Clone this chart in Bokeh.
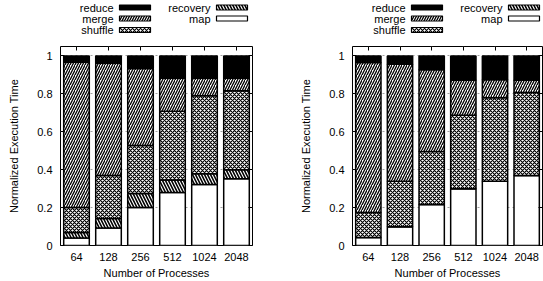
from bokeh.plotting import figure
from bokeh.layouts import row, column
from bokeh.models import (ColumnDataSource, FactorRange, Range1d, FixedTicker,
                          LinearAxis, CategoricalAxis)
from bokeh.transform import stack
from bokeh.core.properties import value
from bokeh.embed import file_html
from bokeh.resources import INLINE

# ---------------- data ----------------
categories = ["64", "128", "256", "512", "1024", "2048"]
phases = ["map", "recovery", "shuffle", "merge", "reduce"]  # bottom -> top

left_map = [0.040, 0.092, 0.200, 0.279, 0.322, 0.352]
left_recovery = [0.028, 0.051, 0.075, 0.067, 0.056, 0.048]
left_shuffle = [0.132, 0.227, 0.252, 0.362, 0.412, 0.417]
left_merge = [0.767, 0.592, 0.407, 0.174, 0.092, 0.065]
left_reduce = [0.033, 0.038, 0.066, 0.118, 0.118, 0.118]

right_map = [0.042, 0.099, 0.216, 0.300, 0.339, 0.369]
right_recovery = [0.0, 0.0, 0.0, 0.0, 0.0, 0.0]
right_shuffle = [0.132, 0.240, 0.280, 0.387, 0.440, 0.438]
right_merge = [0.791, 0.617, 0.431, 0.185, 0.096, 0.065]
right_reduce = [0.035, 0.044, 0.073, 0.128, 0.125, 0.128]

y_ticks = [0, 0.2, 0.4, 0.6, 0.8, 1]
y_tick_labels = ["0", "0.2", "0.4", "0.6", "0.8", "1"]
legend_col1 = ["reduce", "merge", "shuffle"]
legend_col2 = ["recovery", "map"]
x_title = "Number of Processes"
y_title = "Normalized Execution Time"

# ---------------- style ----------------
FONT = "Liberation Sans"
FS = "11px"
styles = {
    "map": dict(fill_color="white"),
    "recovery": dict(fill_color="white", hatch_pattern="\\", hatch_scale=6,
                     hatch_weight=1.6, hatch_color="black"),
    "shuffle": dict(fill_color="white", hatch_pattern="x", hatch_scale=4,
                    hatch_weight=1.2, hatch_color="black"),
    "merge": dict(fill_color="white", hatch_pattern="/", hatch_scale=5,
                  hatch_weight=1.3, hatch_color="black"),
    "reduce": dict(fill_color="black"),
}

LEG_H = 40
PLOT_H = 241
FRAME_LEFT = 60


def make_legend(width, right_border):
    # frame of this figure lines up with the plot frame below it
    lf = figure(width=width, height=LEG_H,
                x_range=Range1d(FRAME_LEFT, width - right_border),
                y_range=Range1d(0, LEG_H), toolbar_location=None,
                output_backend="svg", x_axis_type=None, y_axis_type=None,
                min_border_left=FRAME_LEFT, min_border_right=right_border,
                min_border_top=0, min_border_bottom=0)
    lf.outline_line_color = None
    rows_y = [LEG_H - 7, LEG_H - 18, LEG_H - 29.5]
    for names, label_end in [(legend_col1, 53), (legend_col2, 150)]:
        for i, name in enumerate(names):
            xl = FRAME_LEFT + label_end
            lf.text(x=[xl], y=[rows_y[i]], text=[name], text_align="right",
                    text_baseline="middle", text_font=value(FONT),
                    text_font_size=FS, text_color="black")
            lf.rect(x=[xl + 6 + 15.5], y=[rows_y[i]], width=31, height=5,
                    line_color="black", line_width=1.2, **styles[name])
    return lf


def make_panel(width, vals, right_border):
    data = dict(cat=categories)
    data.update(vals)
    src = ColumnDataSource(data)
    p = figure(width=width, height=PLOT_H, x_range=FactorRange(*categories),
               y_range=Range1d(0, 1.05), toolbar_location=None,
               output_backend="svg", min_border_left=FRAME_LEFT,
               min_border_right=right_border, min_border_top=6,
               min_border_bottom=34)
    for i, ph in enumerate(phases):
        bottom = stack(*phases[:i]) if i > 0 else 0
        p.vbar(x="cat", width=0.8, bottom=bottom, top=stack(*phases[:i + 1]),
               source=src, line_color="black", line_width=1.5, **styles[ph])

    p.outline_line_color = "black"
    p.outline_line_width = 1
    p.xgrid.visible = False
    p.ygrid.ticker = FixedTicker(ticks=y_ticks)
    p.ygrid.grid_line_color = "#a0a0a0"
    p.ygrid.grid_line_dash = "2 3"
    p.ygrid.grid_line_width = 1

    overrides = {t: l for t, l in zip(y_ticks, y_tick_labels)}
    ya = p.yaxis[0]
    ya.ticker = FixedTicker(ticks=y_ticks)
    ya.major_label_overrides = overrides
    ya.axis_line_color = None
    ya.major_tick_in = 4
    ya.major_tick_out = 0
    ya.minor_tick_line_color = None
    ya.major_label_standoff = 8
    ya.axis_label = y_title
    ya.axis_label_standoff = 14
    xa = p.xaxis[0]
    xa.axis_line_color = None
    xa.major_tick_in = 0
    xa.major_tick_out = 0
    xa.major_label_standoff = 7
    xa.axis_label = x_title
    xa.axis_label_standoff = 3
    for ax in (ya, xa):
        ax.major_label_text_font = FONT
        ax.major_label_text_font_size = FS
        ax.major_label_text_color = "black"
        ax.axis_label_text_font = FONT
        ax.axis_label_text_font_size = FS
        ax.axis_label_text_font_style = "normal"
        ax.axis_label_text_color = "black"

    ra = LinearAxis(ticker=FixedTicker(ticks=y_ticks), axis_line_color=None,
                    major_tick_in=4, major_tick_out=0,
                    minor_tick_line_color=None,
                    major_label_overrides={t: "" for t in y_ticks},
                    major_label_text_font_size="1px", major_label_standoff=0)
    p.add_layout(ra, "right")
    ta = CategoricalAxis(axis_line_color=None, major_tick_in=4,
                         major_tick_out=0,
                         major_label_overrides={c: "" for c in categories},
                         major_label_text_font_size="1px",
                         major_label_standoff=0)
    p.add_layout(ta, "above")
    return p


left_vals = dict(map=left_map, recovery=left_recovery, shuffle=left_shuffle,
                 merge=left_merge, reduce=left_reduce)
right_vals = dict(map=right_map, recovery=right_recovery,
                  shuffle=right_shuffle, merge=right_merge,
                  reduce=right_reduce)

W1 = 292
W2 = 251
RB1 = 40
RB2 = 1
p1 = make_panel(W1, left_vals, RB1)
p2 = make_panel(W2, right_vals, RB2)
l1 = make_legend(W1, RB1)
l2 = make_legend(W2, RB2)

layout = row(column(l1, p1), column(l2, p2))

open("out.html", "w").write(file_html(layout, INLINE))
